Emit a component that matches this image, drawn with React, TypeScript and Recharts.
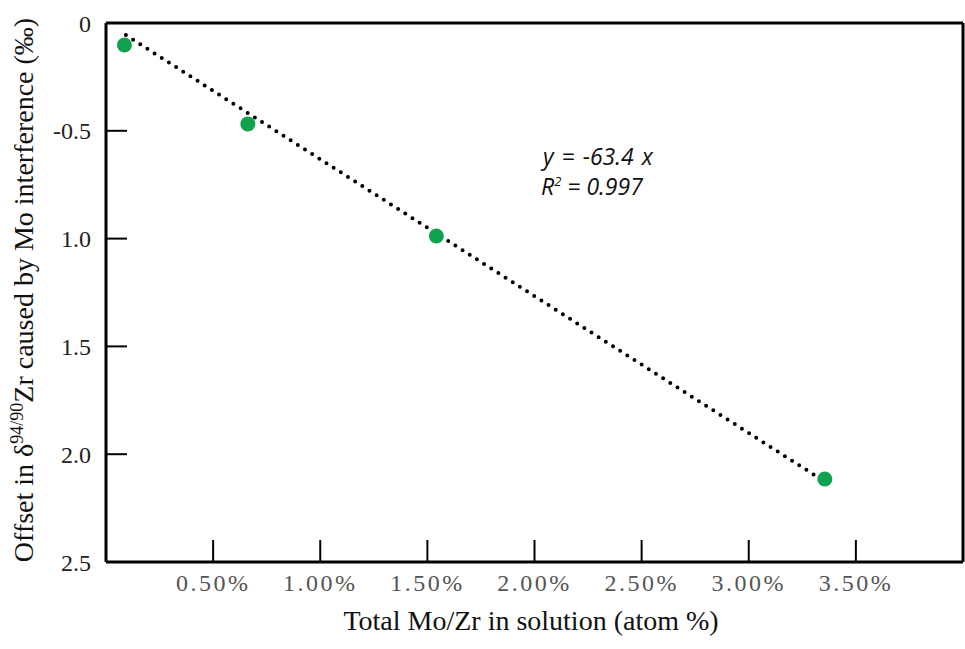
import React from "react";
import {
  ComposedChart,
  Customized,
  Line,
  ReferenceLine,
  Scatter,
  XAxis,
  YAxis,
} from "recharts";

// Mo/Zr doping experiment: offset in d94/90Zr vs total Mo/Zr (atom %)
const moZrPct = [0.086, 0.662, 1.542, 3.355];
const zrOffset = [0.102, 0.468, 0.988, 2.115];

// end points of the dotted regression line (y = -63.4 x)
const trendX = [0.093, 3.32];
const trendY = [0.056, 2.105];

const xTicks = [0.5, 1, 1.5, 2, 2.5, 3, 3.5];
const xTickLabels = ["0.50%", "1.00%", "1.50%", "2.00%", "2.50%", "3.00%", "3.50%"];
const yTicks = [0, 0.5, 1, 1.5, 2, 2.5];
const yTickLabels = ["0", "-0.5", "1.0", "1.5", "2.0", "2.5"];

const points = moZrPct.map((x, i) => ({ x, y: zrOffset[i] }));
const trend = trendX.map((x, i) => ({ x, y: trendY[i] }));

const SERIF = "'Liberation Serif', 'Times New Roman', serif";
const SANS = "'Open Sans', 'Noto Sans', sans-serif";

function Annotations() {
  return (
    <g>
      <text
        transform="rotate(-90)"
        x={-290}
        y={33}
        textAnchor="middle"
        fontFamily={SERIF}
        fontSize={28}
        fill="#111"
      >
        Offset in δ
        <tspan dy={-10} fontSize={18}>
          94/90
        </tspan>
        <tspan dy={10}>Zr caused by Mo interference (‰)</tspan>
      </text>
      <text x={531} y={630} textAnchor="middle" fontFamily={SERIF} fontSize={28} fill="#111">
        Total Mo/Zr in solution (atom %)
      </text>
      <text x={543} y={165} fontFamily={SANS} fontStyle="italic" fontSize={23} fill="#111" wordSpacing={2}>
        y = -63.4 x
      </text>
      <text x={541} y={195} fontFamily={SANS} fontStyle="italic" fontSize={23} fill="#111">
        R
        <tspan dy={-9} fontSize={13}>
          2
        </tspan>
        <tspan dy={9}> = 0.997</tspan>
      </text>
    </g>
  );
}

export default function App() {
  return (
    <div style={{ position: "absolute", left: 0, top: 0, width: 965, height: 649, background: "#fff" }}>
      <ComposedChart width={965} height={649} margin={{ top: 23, right: 2, bottom: 0, left: 0 }}>
        <XAxis
          dataKey="x"
          type="number"
          domain={[0, 4]}
          ticks={xTicks}
          tickFormatter={(v: number) => xTickLabels[xTicks.indexOf(v)] ?? ""}
          height={87}
          axisLine={{ stroke: "#000", strokeWidth: 3 }}
          tickLine={{ stroke: "#000", strokeWidth: 2 }}
          tickSize={-22}
          tickMargin={34}
          tick={{ fontFamily: SERIF, fontSize: 24, fill: "#555", letterSpacing: 2.5 }}
          allowDataOverflow
        />
        <YAxis
          dataKey="y"
          type="number"
          reversed
          domain={[0, 2.5]}
          ticks={yTicks}
          tickFormatter={(v: number) => yTickLabels[yTicks.indexOf(v)] ?? ""}
          width={106}
          axisLine={{ stroke: "#000", strokeWidth: 3 }}
          tickLine={{ stroke: "#000", strokeWidth: 2 }}
          tickSize={-21}
          tickMargin={36}
          tick={{ fontFamily: SERIF, fontSize: 24, fill: "#222" }}
          allowDataOverflow
        />
        <ReferenceLine y={0} stroke="#000" strokeWidth={3} />
        <ReferenceLine x={4} stroke="#000" strokeWidth={3} />
        <Line
          data={trend}
          dataKey="y"
          type="linear"
          stroke="#000"
          strokeWidth={4}
          strokeDasharray="0 8.5"
          strokeLinecap="round"
          dot={false}
          activeDot={false}
          isAnimationActive={false}
        />
        <Scatter
          data={points}
          dataKey="y"
          isAnimationActive={false}
          shape={(p: any) => <circle cx={p.cx} cy={p.cy} r={7.5} fill="#10a14f" />}
        />
        <Customized component={Annotations} />
      </ComposedChart>
    </div>
  );
}
